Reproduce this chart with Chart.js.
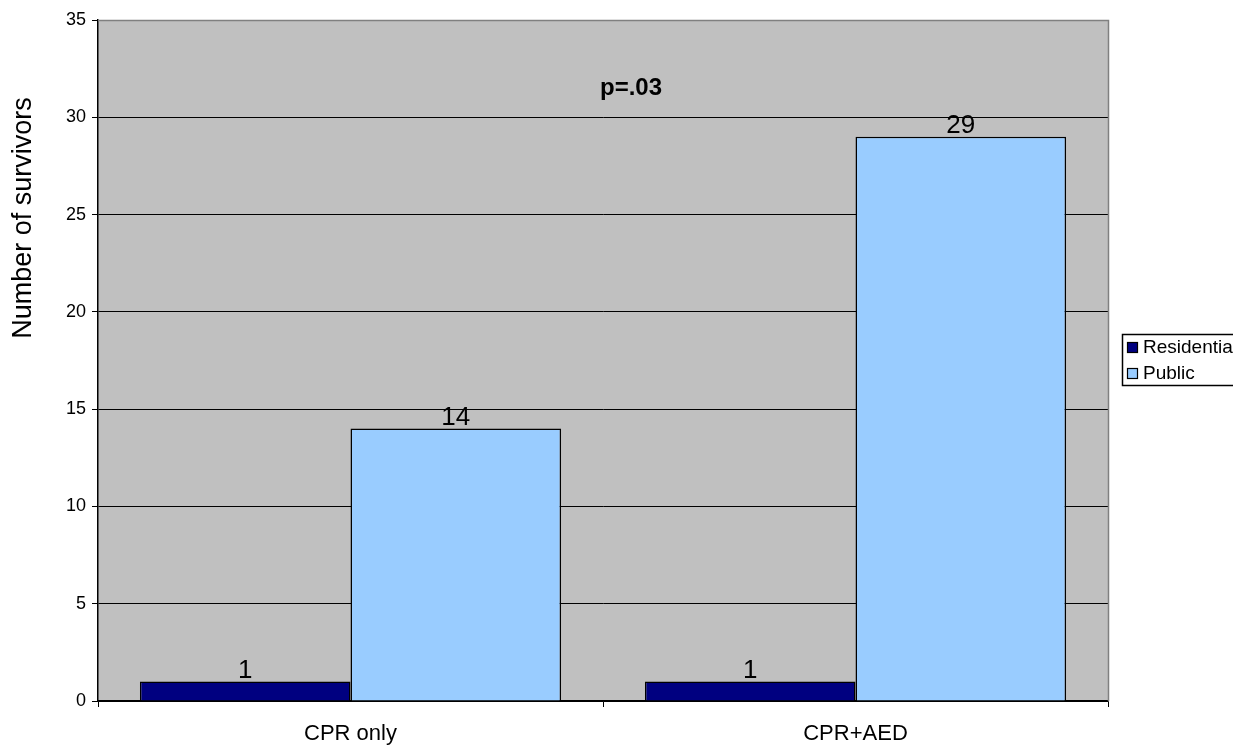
<!DOCTYPE html>
<html>
<head>
<meta charset="utf-8">
<script src="https://cdn.jsdelivr.net/npm/chart.js@4"></script>
<style>
html,body{margin:0;padding:0;background:#fff;}
#wrap{position:relative;width:1233px;height:746px;}
</style>
</head>
<body>
<div id="wrap"><canvas id="c" width="1233" height="746"></canvas></div>
<script>
const categories = ["CPR only", "CPR+AED"];
const residential = [1, 1];
const publicVals = [14, 29];
const seriesNames = ["Residential", "Public"];
const yTicks = [0, 5, 10, 15, 20, 25, 30, 35];
const annotationText = "p=.03";
const yTitle = "Number of survivors";

const FONT = "'Liberation Sans', Arial, sans-serif";

const bgPlugin = {
  id: 'bg',
  beforeDraw(chart) {
    const {ctx, chartArea: a} = chart;
    ctx.save();
    ctx.fillStyle = '#c0c0c0';
    ctx.fillRect(a.left, a.top, a.right - a.left, a.bottom - a.top);
    ctx.restore();
  },
  afterDraw(chart) {
    const {ctx, chartArea: a} = chart;
    ctx.save();
    // top & right border gray
    ctx.strokeStyle = '#808080';
    ctx.lineWidth = 1.5;
    ctx.beginPath();
    ctx.moveTo(a.left, a.top + 0.5);
    ctx.lineTo(a.right + 0.5, a.top + 0.5);
    ctx.lineTo(a.right + 0.5, a.bottom);
    ctx.stroke();
    // data labels
    ctx.fillStyle = '#000';
    ctx.font = "26px " + FONT;
    ctx.textAlign = 'center';
    ctx.textBaseline = 'alphabetic';
    chart.data.datasets.forEach((ds, di) => {
      const meta = chart.getDatasetMeta(di);
      meta.data.forEach((bar, i) => {
        ctx.fillText(String(ds.data[i]), bar.x, bar.y - 4);
      });
    });
    // annotation
    ctx.font = "bold 24px " + FONT;
    ctx.textBaseline = 'middle';
    ctx.fillText(annotationText, 631, 88);
    // y title
    ctx.save();
    ctx.translate(24, 218);
    ctx.rotate(-Math.PI / 2);
    ctx.font = "27px " + FONT;
    ctx.textAlign = 'center';
    ctx.textBaseline = 'middle';
    ctx.fillText(yTitle, 0, 0);
    ctx.restore();
    // legend
    const lx = 1122, ly = 334, lw = 130, lh = 51;
    ctx.fillStyle = '#fff';
    ctx.fillRect(lx, ly, lw, lh);
    ctx.strokeStyle = '#000';
    ctx.lineWidth = 1.5;
    ctx.strokeRect(lx + 0.5, ly + 0.5, lw, lh);
    const cols = ['#000080', '#99ccff'];
    const ys = [347, 373];
    ctx.font = "19px " + FONT;
    ctx.textAlign = 'left';
    ctx.textBaseline = 'middle';
    seriesNames.forEach((n, i) => {
      ctx.fillStyle = cols[i];
      ctx.fillRect(1127, ys[i] - 5, 11, 11);
      ctx.strokeStyle = '#000';
      ctx.lineWidth = 1.2;
      ctx.strokeRect(1127.5, ys[i] - 4.5, 10, 10);
      ctx.fillStyle = '#000';
      ctx.fillText(n, 1143, ys[i] + 1);
    });
    ctx.restore();
  }
};

new Chart(document.getElementById('c'), {
  type: 'bar',
  data: {
    labels: categories,
    datasets: [
      {label: seriesNames[0], data: residential, backgroundColor: '#000080', borderColor: '#000', borderWidth: 1.5},
      {label: seriesNames[1], data: publicVals, backgroundColor: '#99ccff', borderColor: '#000', borderWidth: 1.5}
    ]
  },
  options: {
    responsive: false,
    animation: false,
    events: [],
    layout: {padding: {left: 0, top: 20, right: 125, bottom: 0}},
    datasets: {bar: {categoryPercentage: 0.834, barPercentage: 1.0}},
    plugins: {legend: {display: false}, tooltip: {enabled: false}, title: {display: false}},
    scales: {
      x: {
        grid: {offset: true, drawOnChartArea: false, drawTicks: true, tickLength: 6, color: '#000', lineWidth: 1},
        border: {display: true, color: '#000', width: 1.5},
        ticks: {color: '#000', font: {family: FONT, size: 22}, padding: 14, maxRotation: 0},
        afterFit(s) { s.height = 45; }
      },
      y: {
        min: 0, max: 35,
        afterBuildTicks(s) { s.ticks = yTicks.map(v => ({value: v})); },
        grid: {color: '#000', lineWidth: 1, drawTicks: true, tickLength: 6},
        border: {display: true, color: '#000', width: 1.5},
        ticks: {color: '#000', font: {family: FONT, size: 18}, padding: 6},
        afterFit(s) { s.width = 98; }
      }
    }
  },
  plugins: [bgPlugin]
});
</script>
</body>
</html>
